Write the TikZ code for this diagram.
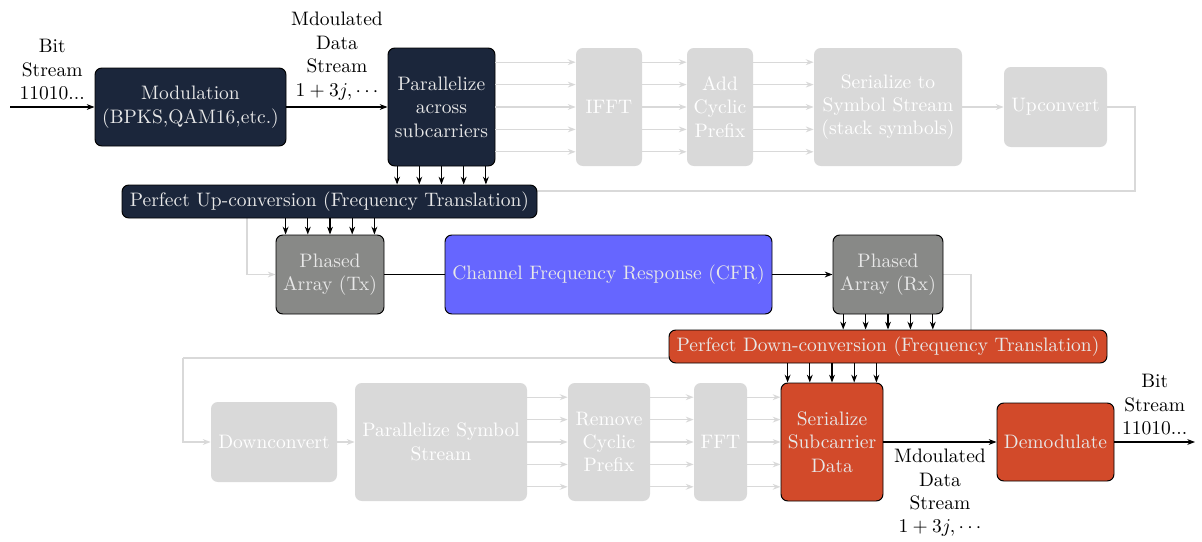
\documentclass[tikz,border=0pt]{standalone}
\usetikzlibrary{arrows.meta,backgrounds}
\newdimen\pxu \pxu=0.5128pt
\definecolor{navy}{RGB}{27,38,59}
\definecolor{phgray}{RGB}{136,137,135}
\definecolor{cfrblue}{RGB}{102,102,255}
\definecolor{ored}{RGB}{210,74,42}
\definecolor{fadegray}{RGB}{217,217,217}
\definecolor{lighttext}{RGB}{232,232,232}
\begin{document}
\begin{tikzpicture}[x=0.5128pt,y=-0.5128pt,
  sz/.style 2 args={minimum width=#1\pxu, minimum height=#2\pxu},
  blk/.style={rectangle, rounded corners=3.5pt, draw=black, line width=0.5pt,
    align=center, inner sep=0pt, text=lighttext},
  darkbox/.style={blk, fill=navy},
  graybox/.style={blk, fill=phgray},
  bluebox/.style={blk, fill=cfrblue},
  redbox/.style={blk, fill=ored},
  fadebox/.style={rectangle, rounded corners=3.5pt, fill=fadegray, text=white,
    align=center, inner sep=0pt},
  arr/.style={semithick, -{Stealth[length=4pt,width=3pt]}},
  garr/.style={fadegray, semithick, -{Stealth[length=4pt,width=3pt]}},
  gline/.style={fadegray, semithick},
  lbl/.style={align=center, text=black}]
\useasboundingbox (0,0) rectangle (1202,542);

% transmitter chain
\node[darkbox, sz={191}{78}] (mod) at (190.5,107) {Modulation\\(BPKS,QAM16,etc.)};
\node[darkbox, sz={107}{118}] (par) at (441.5,107) {Parallelize\\across\\subcarriers};
\node[fadebox, sz={66}{118}] (ifft) at (609,107) {IFFT};
\node[fadebox, sz={66}{118}] (acp) at (720,107) {Add\\Cyclic\\Prefix};
\node[fadebox, sz={148}{118}] (ser) at (888,107) {Serialize to\\Symbol Stream\\(stack symbols)};
\node[fadebox, sz={103}{80}] (upc) at (1055.5,107) {Upconvert};
\node[darkbox, sz={415}{33}] (up) at (329.5,201.5) {Perfect Up-conversion (Frequency Translation)};

% channel
\node[graybox, sz={108}{79}] (tx) at (330,274.5) {Phased\\Array (Tx)};
\node[bluebox, sz={327}{79}] (cfr) at (608.5,274.5) {Channel Frequency Response (CFR)};
\node[graybox, sz={110}{79}] (rx) at (888,274.5) {Phased\\Array (Rx)};

% receiver chain
\node[redbox, sz={438}{33}] (dn) at (888,346.5) {Perfect Down-conversion (Frequency Translation)};
\node[fadebox, sz={126}{80}] (dc) at (274,442) {Downconvert};
\node[fadebox, sz={172}{118}] (pss) at (441,442) {Parallelize Symbol\\Stream};
\node[fadebox, sz={82}{118}] (rcp) at (609,442) {Remove\\Cyclic\\Prefix};
\node[fadebox, sz={53}{118}] (fft) at (720.5,442) {FFT};
\node[redbox, sz={102}{118}] (ssd) at (832,442) {Serialize\\Subcarrier\\Data};
\node[redbox, sz={117}{78}] (dem) at (1055.5,442) {Demodulate};

% free ends of the bit streams
\coordinate (bitin) at (10,107);
\coordinate (bitout) at (1195,442);

% loop-back paths of the full processing chain
\coordinate (uR) at (1135,191);
\coordinate (uL) at (247,191);
\coordinate (dR) at (971,358);
\coordinate (dL) at (183,358);
\begin{pgfonlayer}{background}
  \draw[gline] (upc.east) -| (uR) -- (uL);
  \draw[garr] (uL) |- (tx.west);
  \draw[gline] (rx.east) -| (dR) -- (dL);
  \draw[garr] (dL) |- (dc.west);
\end{pgfonlayer}

% main signal path
\draw[arr] (bitin) -- (mod) node[midway, above, lbl] {Bit\\Stream\\11010...};
\draw[arr] (mod) -- (par) node[midway, above, lbl] {Mdoulated\\Data\\Stream\\$1+3j,\cdots$};
\draw[semithick] (tx) -- (cfr);
\draw[arr] (cfr) -- (rx);
\draw[arr] (ssd) -- (dem) node[midway, below, lbl] {Mdoulated\\Data\\Stream\\$1+3j,\cdots$};
\draw[arr] (dem) -- (bitout) node[midway, above, lbl] {Bit\\Stream\\11010...};
\draw[garr] (ser) -- (upc);
\draw[garr] (dc) -- (pss);

% parallel subcarrier lanes
\foreach \k in {-2,-1,0,1,2} {
  \draw[arr] ([xshift=\k*22.2\pxu]par.south) -- ([xshift=\k*22.2\pxu]par.south |- up.north);
  \draw[arr] ([xshift=\k*22.2\pxu]tx.north |- up.south) -- ([xshift=\k*22.2\pxu]tx.north);
  \draw[arr] ([xshift=\k*22.4\pxu]rx.south) -- ([xshift=\k*22.4\pxu]rx.south |- dn.north);
  \draw[arr] ([xshift=\k*22.2\pxu]ssd.north |- dn.south) -- ([xshift=\k*22.2\pxu]ssd.north);
  \draw[garr] ([yshift=\k*22.4\pxu]par.east) -- ([yshift=\k*22.4\pxu]par.east -| ifft.west);
  \draw[garr] ([yshift=\k*22.4\pxu]ifft.east) -- ([yshift=\k*22.4\pxu]ifft.east -| acp.west);
  \draw[garr] ([yshift=\k*22.4\pxu]acp.east) -- ([yshift=\k*22.4\pxu]acp.east -| ser.west);
  \draw[garr] ([yshift=\k*22.4\pxu]pss.east) -- ([yshift=\k*22.4\pxu]pss.east -| rcp.west);
  \draw[garr] ([yshift=\k*22.4\pxu]rcp.east) -- ([yshift=\k*22.4\pxu]rcp.east -| fft.west);
  \draw[garr] ([yshift=\k*22.4\pxu]fft.east) -- ([yshift=\k*22.4\pxu]fft.east -| ssd.west);
}
\end{tikzpicture}
\end{document}
